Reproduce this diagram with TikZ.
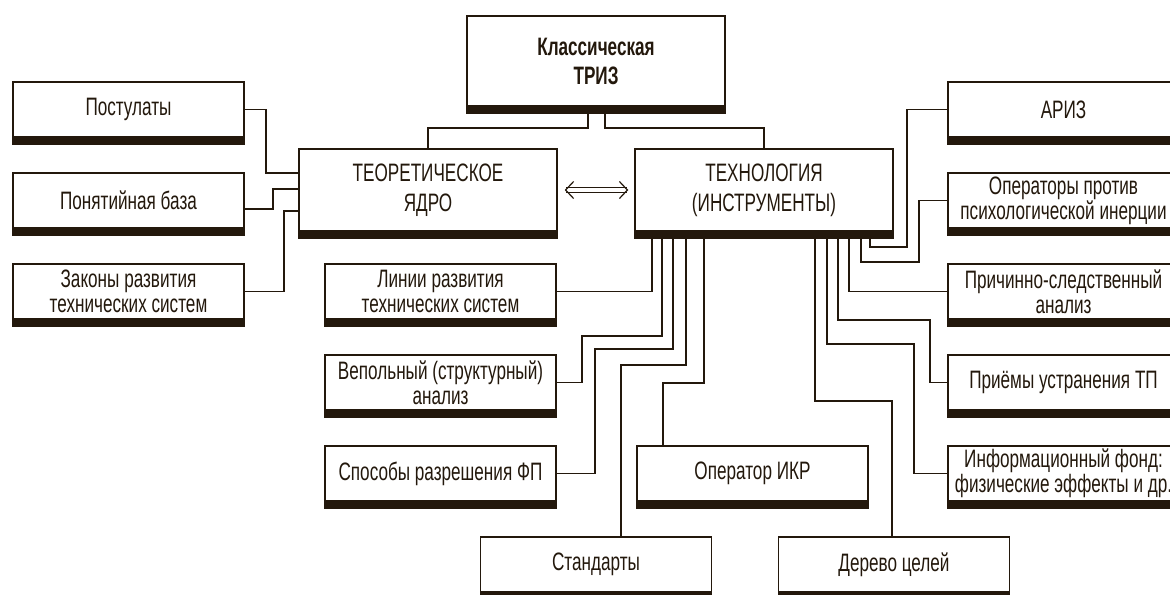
\documentclass[tikz,border=0pt]{standalone}
\usepackage{fontspec}
\setmainfont{Liberation Sans}[FakeStretch=0.68]
\usetikzlibrary{arrows.meta}
\definecolor{ink}{RGB}{35,24,12}
\tikzset{
  box/.style={draw=ink, line width=0.75pt, fill=white, inner sep=0pt, align=center,
    text=ink, minimum width=115.5pt, minimum height=27.5pt,
    font=\fontsize{12.6}{12.5}\selectfont},
  bigbox/.style={box, minimum width=129pt, minimum height=41pt, font=\fontsize{12.6}{15}\selectfont},
  link/.style={draw=ink, line width=0.7pt},
  both/.style={draw=ink, line width=0.6pt, double distance=1.9pt,
    {Straight Barb[length=4pt, width=8.5pt, line width=0.6pt]}-{Straight Barb[length=4pt, width=8.5pt, line width=0.6pt]}}
}
\begin{document}
\begin{tikzpicture}[x=0.5pt, y=-0.5pt]
\useasboundingbox (0,0) rectangle (1170,594);
\clip (0,0) rectangle (1170,594);
\node[bigbox, minimum height=45pt, font=\fontsize{12.6}{14.5}\selectfont\bfseries] (triz) at (596,61) {Классическая\\ТРИЗ};
\node[bigbox] (core) at (428,190) {ТЕОРЕТИЧЕСКОЕ\\ЯДРО};
\node[bigbox] (tech) at (764,190) {ТЕХНОЛОГИЯ\\(ИНСТРУМЕНТЫ)};
\node[box] (post) at (128.5,109.5) {Постулаты};
\node[box] (base) at (128.5,200.5) {Понятийная база};
\node[box] (laws) at (128.5,291.5) {Законы развития\\технических систем};
\node[box] (lines) at (440.5,291.5) {Линии развития\\технических систем};
\node[box] (vepol) at (440.5,382.5) {Вепольный (структурный)\\анализ};
\node[box] (fp) at (440.5,473.5) {Способы разрешения ФП};
\node[box] (std) at (596,564.5) {Стандарты};
\node[box] (ikr) at (752.5,473.5) {Оператор ИКР};
\node[box] (tree) at (894,564.5) {Дерево целей};
\node[box] (ariz) at (1063.5,109.5) {АРИЗ};
\node[box] (inert) at (1063.5,200.5) {Операторы против\\психологической инерции};
\node[box] (cause) at (1063.5,291.5) {Причинно-следственный\\анализ};
\node[box] (tp) at (1063.5,382.5) {Приёмы устранения ТП};
\node[box] (fund) at (1063.5,473.5) {Информационный фонд:\\физические эффекты и др.};

\draw[link] (588,0 |- triz.south) |- (core.north |- 0,128) -- (core.north);
\draw[link] (605,0 |- triz.south) |- (tech.north |- 0,128) -- (tech.north);
\draw[both] ([xshift=3.5pt]core.east) -- ([xshift=-3pt]tech.west);

\draw[link] (post.east) -| (266,173) -- (core.west |- 0,173);
\draw[link] ([yshift=-4.25pt]base.east) -| (273,189) -- (core.west |- 0,189);
\draw[link] (laws.east) -| (284,211) -- (core.west |- 0,211);

\draw[link] (652,0 |- tech.south) |- (lines.east);
\draw[link] (662,0 |- tech.south) |- (582,336) |- (vepol.east);
\draw[link] (673,0 |- tech.south) |- (595,349) |- (fp.east);
\draw[link] (686,0 |- tech.south) |- (621,365) -- (621,0 |- std.north);
\draw[link] (704,0 |- tech.south) |- (663,383) -- (663,0 |- ikr.north);

\draw[link] (870,0 |- tech.south) |- (907,247) |- (ariz.west);
\draw[link] (861,0 |- tech.south) |- (919,262) |- (inert.west);
\draw[link] (849,0 |- tech.south) |- (cause.west);
\draw[link] (838,0 |- tech.south) |- (930,320) |- (tp.west);
\draw[link] (827,0 |- tech.south) |- (914,344) |- (fund.west);
\draw[link] (815,0 |- tech.south) |- (892,401) -- (892,0 |- tree.north);

\foreach \n in {triz,core,tech,post,base,laws,lines,vepol,fp,std,ikr,tree,ariz,inert,cause,tp,fund}
  \fill[ink] (\n.south west) rectangle ([yshift=-3.5pt]\n.south east);
\end{tikzpicture}
\end{document}
